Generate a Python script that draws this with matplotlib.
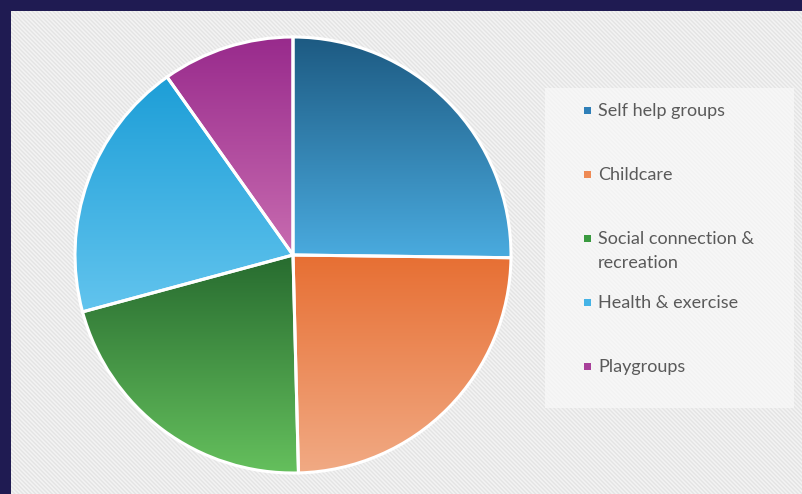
import numpy as np
import matplotlib
matplotlib.use("Agg")
import matplotlib.pyplot as plt
from matplotlib.patches import Rectangle
from matplotlib.colors import to_rgb

categories = ["Self help groups", "Childcare", "Social connection &\nrecreation",
              "Health & exercise", "Playgroups"]
values = [25.2, 24.4, 21.2, 19.4, 9.8]
top_colors = ["#1d5a82", "#e76f33", "#276b2f", "#1d9ed7", "#982a8c"]
bottom_colors = ["#4aabdf", "#f1aa84", "#65c05d", "#62c4ee", "#c86cb0"]
legend_colors = ["#2f7fb8", "#ee8a55", "#3a9a40", "#45b3e6", "#a8409a"]

W, H = 803, 494
fig = plt.figure(figsize=(W / 100, H / 100), dpi=100)
fig.patch.set_facecolor("#1f1b52")
ax = fig.add_axes([0, 0, 1, 1])
ax.set_axis_off()

# panel background with subtle diagonal texture
plt.rcParams["hatch.linewidth"] = 1.0
bg = Rectangle((11, 11), W - 11, H - 11, facecolor="#f3f3f3", edgecolor="none", zorder=0)
ax.add_patch(bg)
hatch = Rectangle((11, 11), W - 11, H - 11, facecolor="none", edgecolor="#e4e4e4",
                  hatch="\\\\\\\\\\\\\\\\", linewidth=0, zorder=0.5)
ax.add_patch(hatch)

# pie
cx, cy, R = 293, 255, 218
wedges, _ = ax.pie(values, center=(cx, cy), radius=R, startangle=-90,
                   counterclock=True, frame=True)
for w, ct, cb in zip(wedges, top_colors, bottom_colors):
    verts = w.get_path().vertices
    x0, x1 = verts[:, 0].min(), verts[:, 0].max()
    y0, y1 = verts[:, 1].min(), verts[:, 1].max()
    n = 256
    t = np.linspace(0, 1, n)[:, None]
    c0, c1 = np.array(to_rgb(ct)), np.array(to_rgb(cb))
    grad = (1 - t)[:, :, None] * c0 + t[:, :, None] * c1
    grad = np.repeat(grad, 2, axis=1)
    im = ax.imshow(grad, extent=(x0, x1, y1, y0), origin="upper",
                   interpolation="bilinear", zorder=2, aspect="auto")
    im.set_clip_path(w)
    w.set_facecolor("none")
    w.set_edgecolor("white")
    w.set_linewidth(2.2)
    w.set_zorder(3)

# legend panel
ax.add_patch(Rectangle((545, 88), 249, 320, facecolor="#f9f9f9", alpha=0.7,
                       edgecolor="none", zorder=1))
for i, (lab, col) in enumerate(zip(categories, legend_colors)):
    y = 110 + 64 * i
    ax.add_patch(Rectangle((584, y - 3.5), 7, 7, facecolor=col, edgecolor="none", zorder=4))
    ax.text(598, y - 7, lab, ha="left", va="top", fontsize=13, color="#5a5a5a",
            family="Lato", linespacing=1.6, zorder=4)

ax.set_xlim(0, W)
ax.set_ylim(H, 0)
ax.set_aspect("auto")
fig.savefig("out.png", dpi=100, facecolor=fig.get_facecolor())
